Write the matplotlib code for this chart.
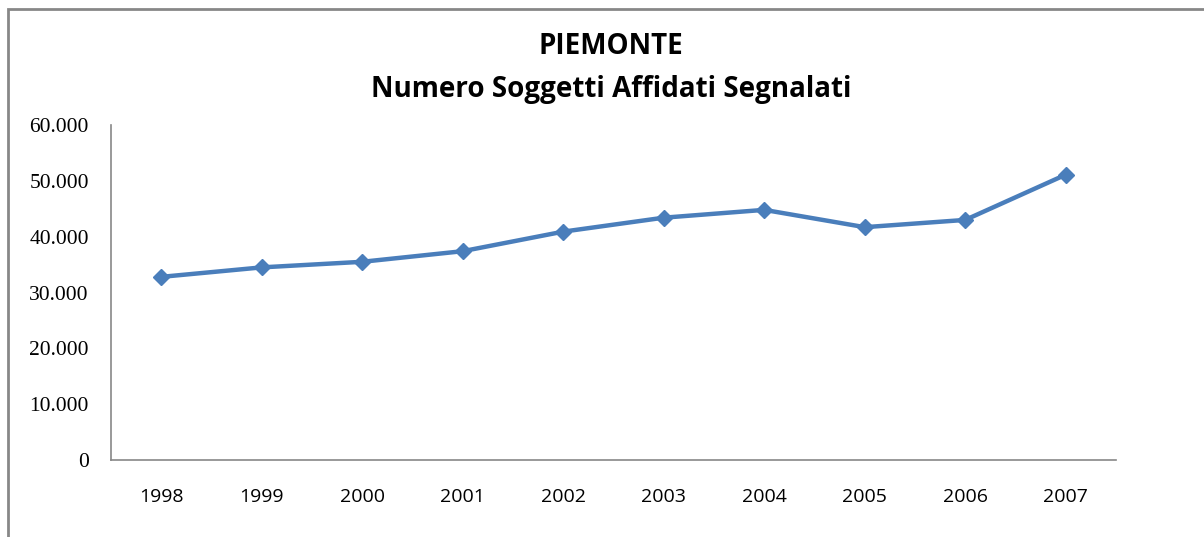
import matplotlib.pyplot as plt
from matplotlib.patches import Rectangle

# data
years = ["1998", "1999", "2000", "2001", "2002", "2003", "2004", "2005", "2006", "2007"]
soggetti = [32800, 34500, 35500, 37400, 40900, 43400, 44800, 41700, 43000, 51100]
y_ticks = [0, 10000, 20000, 30000, 40000, 50000, 60000]
y_labels = ["0", "10.000", "20.000", "30.000", "40.000", "50.000", "60.000"]

W, H = 1204, 537
fig = plt.figure(figsize=(W / 100, H / 100), dpi=100)

# outer chart frame (cropped on the right and bottom in the original)
fig.patches.append(Rectangle((8 / W, -0.1), 1.2, 1 - 9 / H + 0.1,
                             transform=fig.transFigure, fill=False,
                             edgecolor="#878787", linewidth=2))

ax = fig.add_axes([111 / W, (H - 460) / H, 1005 / W, 335 / H])
x = list(range(len(years)))
ax.plot(x, soggetti, color="#4A7EBB", linewidth=3.2, marker="D",
        markersize=8, markerfacecolor="#4A7EBB", markeredgecolor="#4A7EBB")

ax.set_xlim(-0.5, len(years) - 0.5)
ax.set_ylim(0, 60000)
ax.set_xticks(x)
ax.set_xticklabels(years, fontfamily="Open Sans", fontsize=14)
ax.set_yticks(y_ticks)
ax.set_yticklabels(y_labels, fontfamily="Liberation Serif", fontsize=15.5)
ax.tick_params(length=0, colors="black")
ax.tick_params(axis="y", pad=16)
ax.tick_params(axis="x", pad=20)

for side in ("top", "right"):
    ax.spines[side].set_visible(False)
for side in ("left", "bottom"):
    ax.spines[side].set_color("#878787")
    ax.spines[side].set_linewidth(1.2)

fig.text(611 / W, 1 - 47 / H, "PIEMONTE", ha="center", va="center",
         fontfamily="Open Sans", fontweight="bold", fontsize=20)
fig.text(611 / W, 1 - 90 / H, "Numero Soggetti Affidati Segnalati", ha="center",
         va="center", fontfamily="Open Sans", fontweight="bold", fontsize=20)

fig.savefig("out.png", dpi=100)
